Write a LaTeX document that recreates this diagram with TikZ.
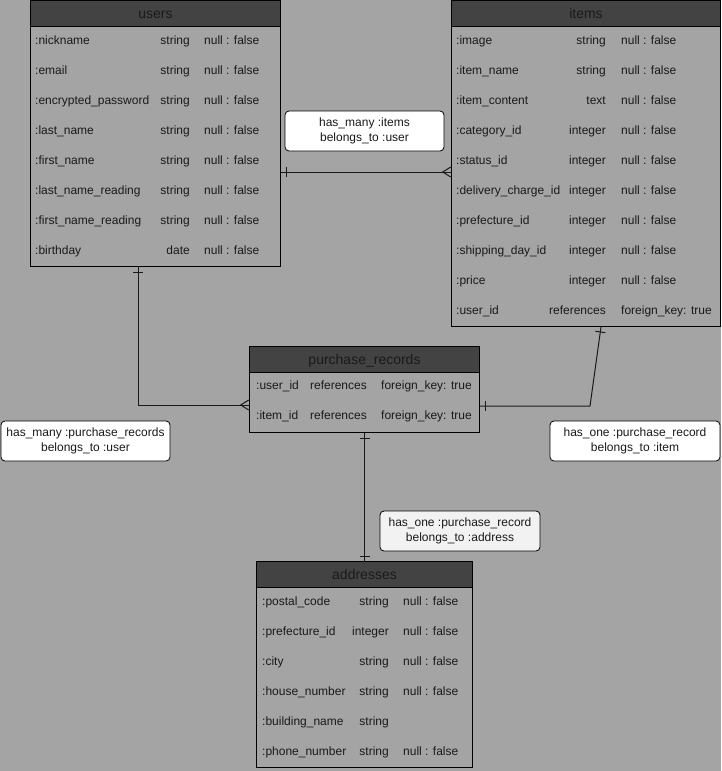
\documentclass[tikz,border=0pt]{standalone}
\usepackage{fontspec}
\setmainfont{Liberation Sans}
\usetikzlibrary{decorations.markings}
\definecolor{bggray}{HTML}{A4A4A4}
\definecolor{hdrgray}{HTML}{434343}
\definecolor{ink}{HTML}{1A1A1A}
\definecolor{notegray}{HTML}{F2F2F2}

\begin{document}
\begin{tikzpicture}[x=1pt,y=-1pt,
    font=\fontsize{12}{15}\selectfont, text=ink,
    tbl/.style={draw=black, line width=1pt, fill=bggray, anchor=north west, inner sep=0pt},
    hdr/.style={draw=black, line width=1pt, fill=hdrgray, anchor=north west, inner sep=0pt,
      minimum height=26pt, text height=11pt, text depth=1pt, font=\fontsize{14}{16}\selectfont},
    colfld/.style={anchor=base west, inner sep=0pt},
    coltyp/.style={anchor=base east, inner sep=0pt},
    colnul/.style={anchor=base west, inner sep=0pt},
    note/.style={draw=black, line width=0.8pt, fill=white, rounded corners=4pt,
      align=center, minimum height=40pt, inner sep=0pt},
    rel/.style={draw=ink, line width=1pt},
    one start/.style={postaction={decorate, decoration={markings,
      mark=at position 5pt with {\draw[ink, line width=1pt] (0pt,-5pt) -- (0pt,5pt);}}}},
    one end/.style={postaction={decorate, decoration={markings,
      mark=at position -5pt with {\draw[ink, line width=1pt] (0pt,-5pt) -- (0pt,5pt);}}}},
    many end/.style={postaction={decorate, decoration={markings,
      mark=at position -0.3pt with {\draw[ink, line width=1pt] (0pt,-5pt) -- (-8pt,0pt) -- (0pt,5pt);}}}}
  ]
  \fill[bggray] (0,0) rectangle (721,771);
  \useasboundingbox (0,0) rectangle (721,771);

  % users
  \node[tbl, minimum width=250pt, minimum height=266pt] (users) at (30,0) {};
  \node[hdr, minimum width=250pt] (users-h) at (30,0) {users};
  \foreach \colname/\coltype/\colnull [count=\i] in {nickname/string/null : false,
      email/string/null : false, encrypted\_password/string/null : false,
      last\_name/string/null : false, first\_name/string/null : false,
      last\_name\_reading/string/null : false, first\_name\_reading/string/null : false,
      birthday/date/null : false} {
    \node[colfld] (users-f\i) at (35,14+30*\i) {:\colname};
    \node[coltyp] (users-t\i) at (190,14+30*\i) {\coltype};
    \node[colnul] (users-n\i) at (204,14+30*\i) {\colnull};
  }

  % items
  \node[tbl, minimum width=269pt, minimum height=326pt] (items) at (451,0) {};
  \node[hdr, minimum width=269pt] (items-h) at (451,0) {items};
  \foreach \colname/\coltype/\colnull [count=\i] in {image/string/null : false,
      item\_name/string/null : false, item\_content/text/null : false,
      category\_id/integer/null : false, status\_id/integer/null : false,
      delivery\_charge\_id/integer/null : false, prefecture\_id/integer/null : false,
      shipping\_day\_id/integer/null : false, price/integer/null : false,
      user\_id/references/foreign\_key: true} {
    \node[colfld] (items-f\i) at (456,14+30*\i) {:\colname};
    \node[coltyp] (items-t\i) at (606,14+30*\i) {\coltype};
    \node[colnul] (items-n\i) at (621,14+30*\i) {\colnull};
  }

  % purchase_records
  \node[tbl, minimum width=230pt, minimum height=86pt] (pr) at (249,346) {};
  \node[hdr, minimum width=230pt] (pr-h) at (249,346) {purchase\_records};
  \foreach \colname/\coltype/\colnull [count=\i] in {user\_id/references/foreign\_key: true,
      item\_id/references/foreign\_key: true} {
    \node[colfld] (pr-f\i) at (256,359+30*\i) {:\colname};
    \node[coltyp] (pr-t\i) at (367,359+30*\i) {\coltype};
    \node[colnul] (pr-n\i) at (381,359+30*\i) {\colnull};
  }

  % addresses
  \node[tbl, minimum width=216pt, minimum height=206pt] (addr) at (256,561) {};
  \node[hdr, minimum width=216pt] (addr-h) at (256,561) {addresses};
  \foreach \colname/\coltype/\colnull [count=\i] in {postal\_code/string/null : false,
      prefecture\_id/integer/null : false, city/string/null : false,
      house\_number/string/null : false, building\_name/string/{},
      phone\_number/string/null : false} {
    \node[colfld] (addr-f\i) at (262,575+30*\i) {:\colname};
    \node[coltyp] (addr-t\i) at (389,575+30*\i) {\coltype};
    \node[colnul] (addr-n\i) at (403,575+30*\i) {\colnull};
  }

  % relations
  \coordinate (ui) at (0,172);
  \coordinate (upr) at (138,405);
  \coordinate (pri) at (590,406);
  \coordinate (ip) at (601,0);
  \draw[rel, one start, many end] (users.east |- ui) -- (items.west |- ui);
  \draw[rel, one start, many end] (users.south -| upr) |- (pr.west |- upr);
  \draw[rel, one start, one end] (pr.east |- pri) -- (pri) -- (items.south -| ip);
  \draw[rel, one start, one end] (pr.south) -- (addr.north);

  % labels
  \node[note, minimum width=159pt] (lbl-ui) at (364.5,131) {has\_many :items\\belongs\_to :user};
  \node[note, minimum width=169pt] (lbl-upr) at (85.5,441) {has\_many :purchase\_records\\belongs\_to :user};
  \node[note, minimum width=170pt] (lbl-ipr) at (635,441) {has\_one :purchase\_record\\belongs\_to :item};
  \node[note, minimum width=160pt, fill=notegray] (lbl-pra) at (460,531) {has\_one :purchase\_record\\belongs\_to :address};
\end{tikzpicture}
\end{document}
